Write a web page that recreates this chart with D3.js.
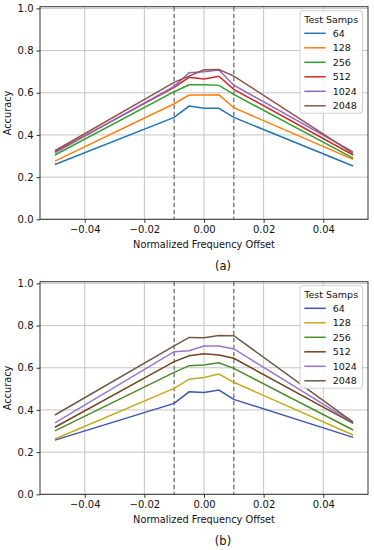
<!DOCTYPE html>
<html>
<head>
<meta charset="utf-8">
<script src="https://cdn.jsdelivr.net/npm/d3@7"></script>
<style>
  body { margin: 0; background: #fff; }
  svg text { font-family: "DejaVu Sans", sans-serif; }
</style>
</head>
<body>
<div id="chart"></div>
<script>
const offsets = [-0.05, -0.01, -0.005, 0, 0.005, 0.01, 0.05];
const sampLabels = ["64", "128", "256", "512", "1024", "2048"];
const xTicks = [-0.04, -0.02, 0, 0.02, 0.04];
const yTicks = [0, 0.2, 0.4, 0.6, 0.8, 1.0];
const bounds = [-0.01, 0.01];

const accA = [
    [0.260, 0.483, 0.537, 0.526, 0.526, 0.483, 0.253],
    [0.276, 0.548, 0.589, 0.589, 0.590, 0.529, 0.284],
    [0.305, 0.605, 0.638, 0.638, 0.635, 0.592, 0.290],
    [0.320, 0.625, 0.673, 0.665, 0.678, 0.616, 0.305],
    [0.315, 0.630, 0.695, 0.700, 0.708, 0.636, 0.320],
    [0.325, 0.649, 0.679, 0.709, 0.710, 0.679, 0.313]
];
const accB = [
    [0.257, 0.431, 0.486, 0.483, 0.494, 0.450, 0.270],
    [0.262, 0.502, 0.546, 0.554, 0.570, 0.531, 0.281],
    [0.301, 0.578, 0.610, 0.613, 0.624, 0.597, 0.305],
    [0.318, 0.629, 0.657, 0.666, 0.660, 0.645, 0.336],
    [0.339, 0.676, 0.681, 0.703, 0.703, 0.689, 0.340],
    [0.376, 0.704, 0.744, 0.742, 0.753, 0.752, 0.342]
];
const colorsA = ["#1f77b4", "#ff7f0e", "#2ca02c", "#d62728", "#9467bd", "#8c564b"];
const colorsB = ["#3f55b2", "#c9a91c", "#4a8a2c", "#74431f", "#9775cc", "#6d5847"];

const W = 374, H = 550;
const margin = {top: 6.7, left: 40, right: 6, bottom: 55};
const panelH = 275;
const width = W - margin.left - margin.right;
const height = 219.3 - margin.top;

const svg = d3.select("#chart").append("svg")
    .attr("width", W)
    .attr("height", H);

const x = d3.scaleLinear().domain([-0.055, 0.055]).range([0, width]);
const y = d3.scaleLinear().domain([0, 1.008]).range([height, 0]);

function drawPanel(data, colors, offsetY, caption) {
    const g = svg.append("g")
        .attr("transform", `translate(${margin.left}, ${margin.top + offsetY})`);

    // grid
    g.append("g").selectAll("line")
        .data(xTicks).enter().append("line")
        .attr("x1", d => x(d)).attr("x2", d => x(d))
        .attr("y1", 0).attr("y2", height)
        .attr("stroke", "#c4c4c4").attr("stroke-width", 1);
    g.append("g").selectAll("line")
        .data(yTicks).enter().append("line")
        .attr("y1", d => y(d)).attr("y2", d => y(d))
        .attr("x1", 0).attr("x2", width)
        .attr("stroke", "#c4c4c4").attr("stroke-width", 1);

    // dashed bounds
    g.append("g").selectAll("line")
        .data(bounds).enter().append("line")
        .attr("x1", d => x(d)).attr("x2", d => x(d))
        .attr("y1", 0).attr("y2", height)
        .attr("stroke", "#707070").attr("stroke-width", 1.3)
        .attr("stroke-dasharray", "4.5,2.5");

    const line = d3.line()
        .x((d, i) => x(offsets[i]))
        .y(d => y(d));

    g.append("g").selectAll("path")
        .data(data).enter().append("path")
        .attr("d", d => line(d))
        .attr("fill", "none")
        .attr("stroke", (d, i) => colors[i])
        .attr("stroke-width", 1.5);

    // axes
    const xAxis = g.append("g")
        .attr("transform", `translate(0, ${height})`)
        .call(d3.axisBottom(x).tickValues(xTicks).tickSize(3.5).tickPadding(3)
            .tickFormat(d => d3.format(".2f")(d).replace("-", "\u2212")));
    const yAxis = g.append("g")
        .call(d3.axisLeft(y).tickValues(yTicks).tickSize(3.5).tickPadding(3)
            .tickFormat(d3.format(".1f")));
    [xAxis, yAxis].forEach(a => {
        a.selectAll("text").attr("font-size", 10).attr("fill", "#111")
            .attr("font-family", "DejaVu Sans, sans-serif");
        a.selectAll("line").attr("stroke", "#333");
        a.select(".domain").remove();
    });

    g.append("rect")
        .attr("x", 0).attr("y", 0)
        .attr("width", width).attr("height", height)
        .attr("fill", "none").attr("stroke", "#333").attr("stroke-width", 1);

    g.append("text")
        .attr("x", x(0)).attr("y", height + 29)
        .attr("text-anchor", "middle")
        .attr("font-size", 9.8).attr("fill", "#111")
        .text("Normalized Frequency Offset");

    g.append("text")
        .attr("transform", `translate(${-29}, ${height / 2}) rotate(-90)`)
        .attr("text-anchor", "middle")
        .attr("font-size", 9.8).attr("fill", "#111")
        .text("Accuracy");

    // legend
    const lg = g.append("g").attr("transform", `translate(${300 - margin.left}, ${10.7 - margin.top})`);
    lg.append("rect")
        .attr("width", 62.5).attr("height", 102.5)
        .attr("rx", 2.5)
        .attr("fill", "#fff").attr("fill-opacity", 0.85)
        .attr("stroke", "#d0d0d0");
    lg.append("text")
        .attr("x", 31.2).attr("y", 12)
        .attr("text-anchor", "middle")
        .attr("font-size", 9.5).attr("fill", "#111")
        .text("Test Samps");
    const item = lg.selectAll(".item")
        .data(sampLabels).enter().append("g")
        .attr("class", "item")
        .attr("transform", (d, i) => `translate(0, ${22.6 + i * 14.5})`);
    item.append("line")
        .attr("x1", 4.3).attr("x2", 25.7)
        .attr("stroke", (d, i) => colors[i]).attr("stroke-width", 1.5);
    item.append("text")
        .attr("x", 32.7).attr("y", 3.5)
        .attr("font-size", 9.5).attr("fill", "#111")
        .text(d => d);

    svg.append("text")
        .attr("x", 223).attr("y", offsetY + 270)
        .attr("text-anchor", "middle")
        .attr("font-family", "Liberation Serif, serif")
        .attr("font-size", 11.5).attr("fill", "#111")
        .text(caption);
}

drawPanel(accA, colorsA, 0, "(a)");
drawPanel(accB, colorsB, panelH, "(b)");
</script>
</body>
</html>
